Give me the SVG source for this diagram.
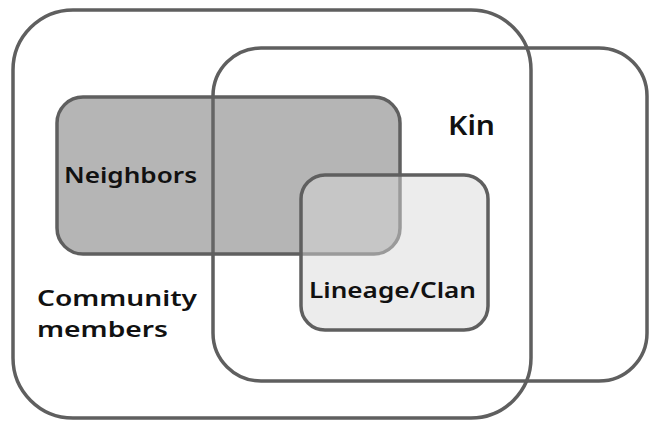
<svg xmlns="http://www.w3.org/2000/svg" width="651" height="422" viewBox="0 0 651 422">
<style>
.set{stroke:#5f5f5f;stroke-width:3.5;}
.lbl{font-family:"Noto Sans","Open Sans","Liberation Sans",sans-serif;font-weight:600;fill:#111;}
</style>
<rect width="651" height="422" fill="#ffffff"/>
<g id="community">
<rect class="set" x="13" y="10" width="518" height="408" rx="60" ry="60" fill="none"/>
<text class="lbl" x="37" y="306" font-size="22" textLength="160" lengthAdjust="spacingAndGlyphs">Community</text>
<text class="lbl" x="37" y="337" font-size="22" textLength="131" lengthAdjust="spacingAndGlyphs">members</text>
</g>
<g id="kin">
<rect class="set" x="213" y="48" width="434" height="333" rx="48" ry="48" fill="none"/>
<text class="lbl" x="448" y="135" font-size="27" textLength="47" lengthAdjust="spacingAndGlyphs">Kin</text>
</g>
<g id="neighbors">
<rect class="set" x="57" y="97" width="343" height="157" rx="26" ry="26" fill="#6b6b6b" fill-opacity="0.5"/>
<text class="lbl" x="64" y="183" font-size="22" textLength="133" lengthAdjust="spacingAndGlyphs">Neighbors</text>
</g>
<g id="lineage">
<rect class="set" x="301" y="175" width="187" height="155" rx="24" ry="24" fill="#d8d8d8" fill-opacity="0.49"/>
<text class="lbl" x="309" y="298" font-size="22" textLength="167" lengthAdjust="spacingAndGlyphs">Lineage/Clan</text>
</g>
<g id="connectors"/>
</svg>
